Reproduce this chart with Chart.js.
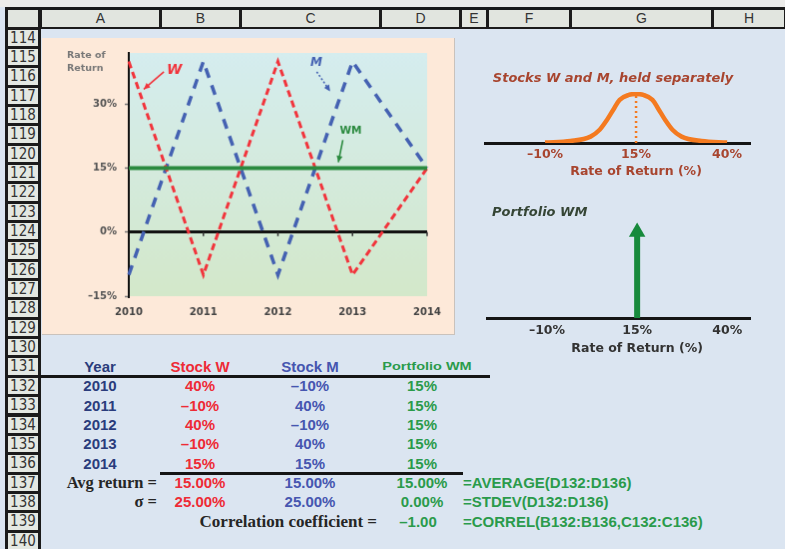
<!DOCTYPE html>
<html>
<head>
<meta charset="utf-8">
<script src="https://cdn.jsdelivr.net/npm/chart.js@4.4.0/dist/chart.umd.min.js"></script>
<style>
  body { margin: 0; width: 785px; height: 549px; overflow: hidden; position: relative;
         background: #dbe5f1; font-family: "Liberation Sans", Arial, sans-serif; }
  .abs { position: absolute; }
  #topStrip { left: 0; top: 0; width: 785px; height: 7px; background: #ececea; }
  #colHead { left: 5px; top: 7px; width: 780px; height: 22px; background: #1b1b1b; }
  .colCell { position: absolute; top: 3px; height: 17px; background: #e1e5df; color: #333;
             font-size: 14px; line-height: 17px; text-align: center; }
  #rowHead { left: 5px; top: 29px; width: 36px; height: 520px; background: #1b1b1b; }
  .rowCell { position: absolute; left: 3px; width: 30px; background: #e4e8e2; color: #333;
             font-family: "Liberation Sans Narrow", "DejaVu Sans Condensed", "Liberation Sans", sans-serif;
             font-size: 15px; text-align: center; overflow: hidden; }
  #rateBox { left: 42px; top: 38px; width: 413px; height: 297px; background: #fde9d9;
             border-right: 1px solid #c9c2bc; border-bottom: 1px solid #c9c2bc; }
  .txt { position: absolute; white-space: nowrap; font-weight: bold; font-size: 15px; }
  .rule { position: absolute; height: 3px; background: #151515; }
</style>
</head>
<body>
<div id="topStrip" class="abs"></div>
<div id="colHead" class="abs"></div>
<div id="rowHead" class="abs"></div>
<canvas id="rateBox" class="abs" width="413" height="297"></canvas>
<canvas id="separateChart" class="abs" width="285" height="122" style="left:478px;top:62px"></canvas>
<canvas id="portfolioChart" class="abs" width="285" height="157" style="left:478px;top:200px"></canvas>
<div id="sheet"></div>

<script>
// ---------------- DATA ----------------
const years = ['2010', '2011', '2012', '2013', '2014'];
const stockW = [40, -10, 40, -10, 15];
const stockM = [-10, 40, -10, 40, 15];
const portfolioWM = [15, 15, 15, 15, 15];
const rateTicks = [-15, 0, 15, 30];

// distribution sketches (x = rate of return %, y = relative height)
const distTicks = [-10, 15, 40];
const bellX = [-10, -3, 2.5, 5, 7, 9, 10.5, 13, 15, 17, 19.5, 21, 23, 25, 27.5, 33, 40];
const bellY = [0.01, 0.04, 0.13, 0.27, 0.47, 0.71, 0.88, 0.98, 1, 0.98, 0.88, 0.71, 0.47, 0.27, 0.13, 0.04, 0.01];
const spikeX = 15;
const spikeTop = 0.905;

// summary rows: W, M, WM
const avgReturn = [15, 15, 15];
const sigma = [25, 25, 0];
const correlation = -1;

// ---------------- SHEET ----------------
const colEdges = [40, 160, 240, 380, 460, 487, 570, 712, 785];
const colNames = ['A', 'B', 'C', 'D', 'E', 'F', 'G', 'H'];
const firstRow = 114, lastRow = 140, rowTop0 = 28, rowH = 19.35;
const rowTop = n => rowTop0 + (n - firstRow) * rowH;

const colHead = document.getElementById('colHead');
let corner = document.createElement('div');
corner.className = 'colCell';
corner.style.left = '3px'; corner.style.width = '30px';
colHead.appendChild(corner);
colNames.forEach((c, i) => {
  const d = document.createElement('div');
  d.className = 'colCell';
  d.style.left = (colEdges[i] - 5 + 2) + 'px';
  d.style.width = (colEdges[i + 1] - colEdges[i] - 3) + 'px';
  d.textContent = c;
  colHead.appendChild(d);
});

const rowHead = document.getElementById('rowHead');
for (let n = firstRow; n <= lastRow; n++) {
  const d = document.createElement('div');
  d.className = 'rowCell';
  d.style.top = (rowTop(n) - 29 + 1.5) + 'px';
  d.style.height = (rowH - 3) + 'px';
  d.style.lineHeight = (rowH - 3) + 'px';
  d.textContent = n;
  rowHead.appendChild(d);
}

const sheet = document.getElementById('sheet');
function cell(text, row, cx, color, extra) {
  const d = document.createElement('div');
  d.className = 'txt';
  d.textContent = text;
  d.style.color = color;
  d.style.top = rowTop(row) + 'px';
  d.style.height = rowH + 'px';
  d.style.lineHeight = rowH + 'px';
  const e = extra || {};
  if (e.align === 'left') { d.style.left = cx + 'px'; }
  else if (e.align === 'right') { d.style.right = (785 - cx) + 'px'; }
  else { d.style.left = (cx - 80) + 'px'; d.style.width = '160px'; d.style.textAlign = 'center'; }
  if (e.font) d.style.fontFamily = e.font;
  if (e.size) d.style.fontSize = e.size + 'px';
  if (e.transform) d.style.transform = e.transform;
  sheet.appendChild(d);
}
function rule(x1, x2, y) {
  const d = document.createElement('div');
  d.className = 'rule';
  d.style.left = x1 + 'px'; d.style.width = (x2 - x1) + 'px'; d.style.top = (y - 1.5) + 'px';
  sheet.appendChild(d);
}
const pct = v => (v < 0 ? '\u2013' + (-v) : v) + '%';
const pct2 = v => (v < 0 ? '\u2013' + (-v).toFixed(2) : v.toFixed(2)) + '%';

const navy = '#2a3c7c', red = '#ee2b36', blue = '#4656b0', green = '#2a9b4b', ink = '#262626';
const colX = [100, 200, 310, 422];
const serif = '"Liberation Serif", "Times New Roman", serif';

cell('Year', 131, colX[0], navy);
cell('Stock W', 131, colX[1], red);
cell('Stock M', 131, colX[2], blue);
cell('Portfolio WM', 131, 427, green, { size: 10.5, transform: 'scaleX(1.38)' });
rule(40, 490, rowTop(132));
years.forEach((y, i) => {
  const r = 132 + i;
  cell(y, r, colX[0], navy);
  cell(pct(stockW[i]), r, colX[1], red);
  cell(pct(stockM[i]), r, colX[2], blue);
  cell(pct(portfolioWM[i]), r, colX[3], green);
});
rule(160, 463, rowTop(137));
cell('Avg return =', 137, 157, ink, { align: 'right', font: serif, size: 16.5 });
cell(pct2(avgReturn[0]), 137, colX[1], red);
cell(pct2(avgReturn[1]), 137, colX[2], blue);
cell(pct2(avgReturn[2]), 137, colX[3], green);
cell('=AVERAGE(D132:D136)', 137, 463, green, { align: 'left' });
cell('\u03c3 =', 138, 157, ink, { align: 'right', font: serif, size: 16.5 });
cell(pct2(sigma[0]), 138, colX[1], red);
cell(pct2(sigma[1]), 138, colX[2], blue);
cell(pct2(sigma[2]), 138, colX[3], green);
cell('=STDEV(D132:D136)', 138, 463, green, { align: 'left' });
cell('Correlation coefficient =', 139, 377, ink, { align: 'right', font: serif, size: 17 });
cell('\u2013' + Math.abs(correlation).toFixed(2), 139, 418, green);
cell('=CORREL(B132:B136,C132:C136)', 139, 463, green, { align: 'left' });

// ---------------- PLUGINS ----------------
const plotBackground = {
  id: 'plotBackground',
  beforeDraw(chart) {
    const { ctx, chartArea: a } = chart;
    const g = ctx.createLinearGradient(0, a.top, 0, a.bottom);
    g.addColorStop(0, '#d5edef');
    g.addColorStop(1, '#d3e8ca');
    ctx.save();
    ctx.fillStyle = g;
    ctx.fillRect(a.left, a.top, a.right - a.left, a.bottom - a.top);
    ctx.restore();
  }
};

function arrowHead(ctx, x1, y1, x2, y2, size) {
  const ang = Math.atan2(y2 - y1, x2 - x1);
  ctx.beginPath();
  ctx.moveTo(x2, y2);
  ctx.lineTo(x2 - size * Math.cos(ang - 0.45), y2 - size * Math.sin(ang - 0.45));
  ctx.lineTo(x2 - size * Math.cos(ang + 0.45), y2 - size * Math.sin(ang + 0.45));
  ctx.closePath();
  ctx.fill();
}

const notes = {
  id: 'notes',
  afterDatasetsDraw(chart, args, opts) {
    const { ctx, scales: { x, y } } = chart;
    ctx.save();
    // small tick marks on the zero line
    const y0 = y.getPixelForValue(0);
    ctx.strokeStyle = '#333';
    ctx.lineWidth = 1.5;
    x.ticks.forEach((t, i) => {
      if (i === 0) return;
      const px = x.getPixelForTick(i);
      ctx.beginPath(); ctx.moveTo(px, y0); ctx.lineTo(px, y0 + 4); ctx.stroke();
    });
    // y axis caption
    ctx.fillStyle = '#777';
    ctx.font = 'bold 9.5px "DejaVu Sans"';
    ctx.textAlign = 'left';
    ctx.textBaseline = 'middle';
    ctx.fillText('Rate of', chart.chartArea.left - 62, chart.chartArea.top + 3);
    ctx.fillText('Return', chart.chartArea.left - 62, chart.chartArea.top + 16);
    // series labels with arrows
    (opts.items || []).forEach(n => {
      ctx.fillStyle = n.color;
      ctx.strokeStyle = n.color;
      ctx.font = n.font;
      ctx.textAlign = 'center';
      ctx.fillText(n.text, x.getPixelForValue(n.at[0]), y.getPixelForValue(n.at[1]));
      const x1 = x.getPixelForValue(n.from[0]), y1 = y.getPixelForValue(n.from[1]);
      const x2 = x.getPixelForValue(n.to[0]), y2 = y.getPixelForValue(n.to[1]);
      ctx.lineWidth = 1.6;
      ctx.setLineDash(n.dash);
      ctx.beginPath(); ctx.moveTo(x1, y1); ctx.lineTo(x2, y2); ctx.stroke();
      ctx.setLineDash([]);
      arrowHead(ctx, x1, y1, x2, y2, 7);
    });
    ctx.restore();
  }
};

const captions = {
  id: 'captions',
  afterDraw(chart, args, opts) {
    const { ctx, scales: { x } } = chart;
    ctx.save();
    ctx.textBaseline = 'middle';
    (opts.items || []).forEach(c => {
      ctx.fillStyle = c.color;
      ctx.font = c.font;
      ctx.textAlign = c.align || 'center';
      const px = c.value !== undefined ? x.getPixelForValue(c.value) : c.x;
      ctx.fillText(c.text, px, c.y);
    });
    ctx.restore();
  }
};

// ---------------- RATE OF RETURN CHART ----------------
const tickFont = { family: 'DejaVu Sans', size: 10, weight: 'bold' };
const rateChart = new Chart(document.getElementById('rateBox'), {
  type: 'line',
  data: {
    labels: years,
    datasets: [
      { label: 'WM', data: portfolioWM, borderColor: '#2b8a3f', borderWidth: 4, pointRadius: 0 },
      { label: 'W', data: stockW, borderColor: '#f2343c', borderWidth: 3, borderDash: [7, 4], pointRadius: 0 },
      { label: 'M', data: stockM, borderColor: '#4461b2', borderWidth: 3.5, borderDash: [10, 8], pointRadius: 0 }
    ]
  },
  options: {
    responsive: false,
    animation: false,
    layout: { padding: { top: 15, right: 27, left: 0, bottom: 0 } },
    plugins: {
      legend: { display: false },
      tooltip: { enabled: false },
      notes: {
        items: [
          { text: 'W', color: '#f2343c', font: 'italic bold 14px "DejaVu Sans"', at: [0.61, 37.85], from: [0.47, 37.6], to: [0.2, 33.5], dash: [] },
          { text: 'M', color: '#4461b2', font: 'italic bold 12px "DejaVu Sans"', at: [2.515, 39.6], from: [2.52, 37.6], to: [2.70, 33.0], dash: [2, 2] },
          { text: 'WM', color: '#2b8a3f', font: 'bold 10.5px "DejaVu Sans"', at: [2.977, 23.7], from: [2.87, 21.6], to: [2.81, 16.4], dash: [] }
        ]
      }
    },
    scales: {
      x: {
        grid: { display: false, drawTicks: false },
        border: { display: false },
        ticks: { font: tickFont, color: '#444', padding: 10, maxRotation: 0 },
        afterFit: s => { s.height = 38; }
      },
      y: {
        min: -15,
        max: 42,
        afterBuildTicks: s => { s.ticks = rateTicks.map(v => ({ value: v })); },
        grid: {
          color: c => (c.tick && c.tick.value === 0 ? '#111' : 'rgba(0,0,0,0)'),
          lineWidth: 3,
          drawTicks: true,
          tickLength: 4,
          tickColor: '#777',
          tickWidth: 1.5
        },
        border: { color: '#111', width: 2 },
        ticks: { font: tickFont, color: '#555', padding: 8, callback: v => pct(v) },
        afterFit: s => { s.width = 87; }
      }
    }
  },
  plugins: [plotBackground, notes]
});

// ---------------- DISTRIBUTION SKETCHES ----------------
function distScaleX(height, color, pad) {
  return {
    type: 'linear',
    min: -26.5,
    max: 46.3,
    afterBuildTicks: s => { s.ticks = distTicks.map(v => ({ value: v })); },
    grid: { display: false, drawTicks: false },
    border: { color: '#151515', width: 3 },
    ticks: { font: { family: 'DejaVu Sans', size: 12.5, weight: 'bold' }, color: color, padding: pad, callback: v => pct(v) },
    afterFit: s => { s.height = height; }
  };
}

const separateChart = new Chart(document.getElementById('separateChart'), {
  type: 'scatter',
  data: {
    datasets: [
      { data: bellX.map((v, i) => ({ x: v, y: bellY[i] })), showLine: true, borderColor: '#f47a20',
        borderWidth: 4.5, pointRadius: 0, cubicInterpolationMode: 'monotone' },
      { data: [{ x: spikeX, y: 0 }, { x: spikeX, y: 1 }], showLine: true, borderColor: '#f47a20',
        borderWidth: 2.5, borderDash: [2, 3], pointRadius: 0 }
    ]
  },
  options: {
    responsive: false,
    animation: false,
    layout: { padding: { top: 30, right: 13, left: 7, bottom: 0 } },
    plugins: {
      legend: { display: false },
      tooltip: { enabled: false },
      captions: {
        items: [
          { text: 'Stocks W and M, held separately', font: 'italic bold 13px "DejaVu Sans"', color: '#a8452f', x: 135, y: 17 },
          { text: 'Rate of Return (%)', font: 'bold 12.5px "DejaVu Sans"', color: '#a8452f', value: 15, y: 110 }
        ]
      }
    },
    scales: {
      x: distScaleX(41, '#a8452f', 4),
      y: { display: false, min: 0, max: 1.04 }
    }
  },
  plugins: [captions]
});

const portfolioChart = new Chart(document.getElementById('portfolioChart'), {
  type: 'scatter',
  data: {
    datasets: [
      { data: [{ x: spikeX, y: 0 }, { x: spikeX, y: spikeTop }], showLine: true, borderColor: '#178a3c',
        borderWidth: 6, pointRadius: 0, clip: false },
      { data: [{ x: spikeX, y: spikeTop }], pointStyle: 'triangle', pointRadius: 9.5,
        backgroundColor: '#178a3c', borderWidth: 0, clip: false }
    ]
  },
  options: {
    responsive: false,
    animation: false,
    layout: { padding: { top: 23, right: 13, left: 7, bottom: 0 } },
    plugins: {
      legend: { display: false },
      tooltip: { enabled: false },
      captions: {
        items: [
          { text: 'Portfolio WM', font: 'italic bold 13px "DejaVu Sans"', color: '#354535', x: 14, y: 13, align: 'left' },
          { text: 'Rate of Return (%)', font: 'bold 12.5px "DejaVu Sans"', color: '#333', value: 15, y: 149 }
        ]
      }
    },
    scales: {
      x: distScaleX(39, '#333', 5),
      y: { display: false, min: 0, max: 1 }
    }
  },
  plugins: [captions]
});
</script>
</body>
</html>
